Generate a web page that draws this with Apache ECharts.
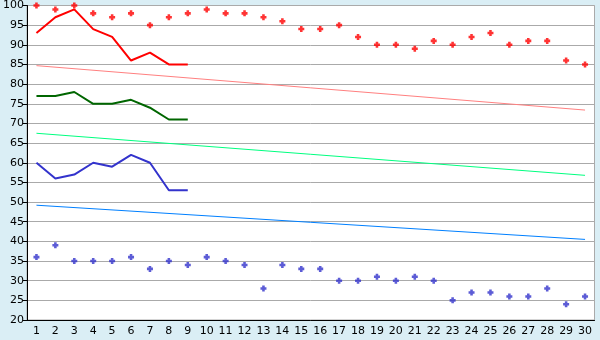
<!DOCTYPE html>
<html><head><meta charset="utf-8">
<script src="https://cdn.jsdelivr.net/npm/echarts@6/dist/echarts.min.js"></script>
<style>html,body{margin:0;padding:0;background:#daeef5;}#c{width:600px;height:340px;}</style>
</head><body><div id="c"></div>
<script>
var categories = [];
for (var i = 1; i <= 30; i++) categories.push(String(i));
var redLine = [93, 97, 99, 94, 92, 86, 88, 85, 85];
var redDots = [100, 99, 100, 98, 97, 98, 95, 97, 98, 99, 98, 98, 97, 96, 94, 94, 95, 92, 90, 90, 89, 91, 90, 92, 93, 90, 91, 91, 86, 85];
var greenLine = [77, 77, 78, 75, 75, 76, 74, 71, 71];
var blueLine = [60, 56, 57, 60, 59, 62, 60, 53, 53];
var blueDots = [36, 39, 35, 35, 35, 36, 33, 35, 34, 36, 35, 34, 28, 34, 33, 33, 30, 30, 31, 30, 31, 30, 25, 27, 27, 26, 26, 28, 24, 26];
var pinkTrendEnds = [84.7, 73.4];
var greenTrendEnds = [67.5, 56.8];
var blueTrendEnds = [49.2, 40.5];
var yTicks = {min: 20, max: 100, interval: 5};

function ends(e) { var a = []; for (var i = 0; i < 30; i++) a.push(null); a[0] = e[0]; a[29] = e[1]; return a; }
var marker = 'path://M2,0H5V2H7V5H5V7H2V5H0V2H2Z';
var chart = echarts.init(document.getElementById('c'), null, {renderer: 'canvas'});
chart.setOption({
  animation: false,
  backgroundColor: '#daeef5',
  grid: {left: 26.5, right: 5.5, top: 5, bottom: 20, show: true, backgroundColor: '#ffffff', borderColor: '#aaaaaa', borderWidth: 1},
  xAxis: {type: 'category', data: categories, boundaryGap: true,
    axisLine: {lineStyle: {color: '#000', width: 1}},
    axisTick: {alignWithLabel: true, length: 5, lineStyle: {color: '#000'}},
    axisLabel: {color: '#000', fontFamily: 'DejaVu Sans', fontSize: 11, margin: 6, interval: 0},
    splitLine: {show: false}},
  yAxis: {type: 'value', min: yTicks.min, max: yTicks.max, interval: yTicks.interval,
    axisLine: {show: true, lineStyle: {color: '#000', width: 1}},
    axisTick: {show: true, length: 4, lineStyle: {color: '#000'}},
    axisLabel: {color: '#000', fontFamily: 'DejaVu Sans', fontSize: 11, margin: 3},
    splitLine: {show: true, lineStyle: {color: '#aaaaaa', width: 1}}},
  series: [
    {type: 'line', data: ends(pinkTrendEnds), connectNulls: true, showSymbol: false, symbol: 'none', lineStyle: {color: '#ff8080', width: 1}},
    {type: 'line', data: ends(greenTrendEnds), connectNulls: true, showSymbol: false, symbol: 'none', lineStyle: {color: '#00ff80', width: 1}},
    {type: 'line', data: ends(blueTrendEnds), connectNulls: true, showSymbol: false, symbol: 'none', lineStyle: {color: '#0080ff', width: 1}},
    {type: 'line', data: redLine, showSymbol: false, symbol: 'none', lineStyle: {color: '#ff0000', width: 2}},
    {type: 'line', data: greenLine, showSymbol: false, symbol: 'none', lineStyle: {color: '#006600', width: 2}},
    {type: 'line', data: blueLine, showSymbol: false, symbol: 'none', lineStyle: {color: '#3333cc', width: 2}},
    {type: 'scatter', data: redDots, symbol: marker, symbolSize: 6, itemStyle: {color: '#ff0000'}},
    {type: 'scatter', data: blueDots, symbol: marker, symbolSize: 6, itemStyle: {color: '#3333cc'}}
  ]
});
</script></body></html>
